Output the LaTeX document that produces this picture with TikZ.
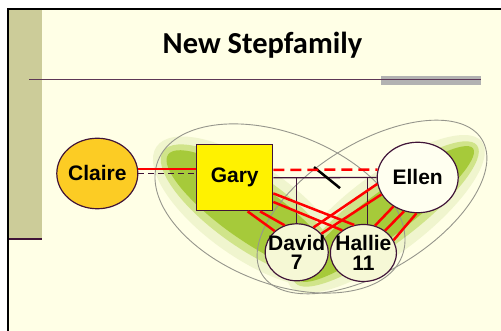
\documentclass[tikz,border=0pt]{standalone}
\usepackage{fontspec}
\setmainfont{Liberation Sans}
\newfontfamily\titlefont{Carlito}
\usetikzlibrary{shapes.geometric,positioning}

\definecolor{slide}{RGB}{255,255,230}
\definecolor{sidebar}{RGB}{204,204,153}
\definecolor{plum}{RGB}{64,20,56}
\definecolor{rulegray}{RGB}{178,178,178}
\definecolor{gold}{RGB}{252,204,36}
\definecolor{kidfill}{RGB}{246,248,214}
\definecolor{ellenfill}{RGB}{255,255,240}
\definecolor{leafdark}{RGB}{166,202,58}
\definecolor{leafmid}{RGB}{208,228,138}
\definecolor{leafpale}{RGB}{240,245,206}
\definecolor{ring}{RGB}{150,150,140}

\tikzstyle{female} = [ellipse, draw=plum, line width=1.2pt, minimum width=81pt, minimum height=70.5pt, inner sep=-8pt, font=\fontsize{21}{18}\selectfont\bfseries]
\tikzstyle{male} = [rectangle, draw=plum, fill=yellow, line width=1.2pt, minimum width=76pt, minimum height=66pt, inner sep=0pt, font=\fontsize{21}{18}\selectfont\bfseries]
\tikzstyle{kid} = [ellipse, draw=plum, fill=kidfill, line width=1.2pt, minimum width=63pt, minimum height=57pt, inner sep=-8pt, align=center, font=\fontsize{21}{19.5}\selectfont\bfseries]
\tikzstyle{bond} = [red, line width=2.5pt]
\tikzstyle{weakbond} = [red, line width=2.5pt, dash pattern=on 11pt off 6pt]
\tikzstyle{kin} = [draw=plum, line width=1.3pt]
\tikzstyle{cutmark} = [black, line width=2.5pt]
\tikzstyle{boundary} = [ring, line width=0.9pt]

\begin{document}
\begin{tikzpicture}[x=1pt,y=1pt]
% slide frame
\useasboundingbox (0,0) rectangle (501,331);
\fill[white] (0,0) rectangle (501,331);
\fill[slide] (7.8,0) rectangle (501,321.8);
\fill[sidebar] (9,93) rectangle (41.7,321);
\draw[plum, line width=2pt] (9,92.3) -- (41.7,92.3);
\draw[black, line width=2.4pt] (7.8,0) -- (7.8,321.8) -- (501,321.8);

% heading
\node (title) [anchor=base, font=\titlefont\fontsize{30.5}{32}\selectfont\bfseries] at (262.5,277.7) {New Stepfamily};
\fill[rulegray] (381,246) rectangle (480.7,255);
\draw[plum!85, line width=1pt] (29.3,251.5) -- (480.7,251.5);

% green glow of the two households
\fill[leafpale, rotate around={-35:(250,119)}] (250,119) ellipse [x radius=114, y radius=46];
\fill[leafpale, rotate around={37:(386,117)}] (386,117) ellipse [x radius=120, y radius=40];
\fill[leafmid, rotate around={-35:(250,119)}] (250,119) ellipse [x radius=106, y radius=36];
\fill[leafmid, rotate around={37:(386,117)}] (386,117) ellipse [x radius=114, y radius=30];
\fill[leafdark, rotate around={-35:(250,119)}] (250,119) ellipse [x radius=100, y radius=28];
\fill[leafdark, rotate around={37:(386,117)}] (386,117) ellipse [x radius=109, y radius=22];

% household boundaries
\draw[boundary, rotate around={-21.4:(280,122.5)}] (280,122.5) ellipse [x radius=131, y radius=75];
\draw[boundary, rotate around={31.6:(372,124)}] (372,124) ellipse [x radius=129, y radius=64];

% people
\node (Gary) [male] at (234.7,153.2) {Gary};
\node (Claire) [female, fill=gold, left=57.7pt of Gary, yshift=4.3pt] {Claire};
\node (Ellen) [female, fill=ellenfill, right=103.3pt of Gary, yshift=0.3pt] {Ellen};
\node (David) [kid, below=11.8pt of Gary, xshift=62pt] {David\\7};
\node (Hallie) [kid, minimum width=66pt, right=1pt of David, yshift=-0.7pt] {Hallie\\11};

% marriage line and children
\draw[kin] (Gary.east) -- (Ellen.west);
\draw[kin] (Gary.east -| David.north) -- (David.north);
\draw[kin] (Gary.east -| Hallie.82) -- (Hallie.82);
\path (Gary.east) -- (Ellen.west) coordinate[pos=0.52] (split);
\draw[cutmark] ([shift={(-13,10.5)}]split) -- ([shift={(13,-10.5)}]split);

% ex-partners
\draw[bond] (Claire.6) -- (Claire.6 -| Gary.west);
\draw[kin, dash pattern=on 6pt off 4pt] (Claire.east) -- (Claire.east -| Gary.west);
\draw[weakbond] ([yshift=8pt]Gary.east) -- (Ellen.169);

% close ties
\draw[bond] (Gary.-69) -- (David.136);
\draw[bond] (Gary.-53) -- (David.114);
\draw[bond] (Gary.-22) -- (Hallie.108);
\draw[bond] (Gary.-32) -- (Hallie.133);
\draw[bond] (Ellen.189) -- (David.56);
\draw[bond] (Ellen.205) -- (David.37);
\draw[bond] (Ellen.230) -- (Hallie.67);
\draw[bond] (Ellen.248) -- (Hallie.46);
\draw[bond] (Ellen.268) -- (Hallie.23);
\end{tikzpicture}
\end{document}
